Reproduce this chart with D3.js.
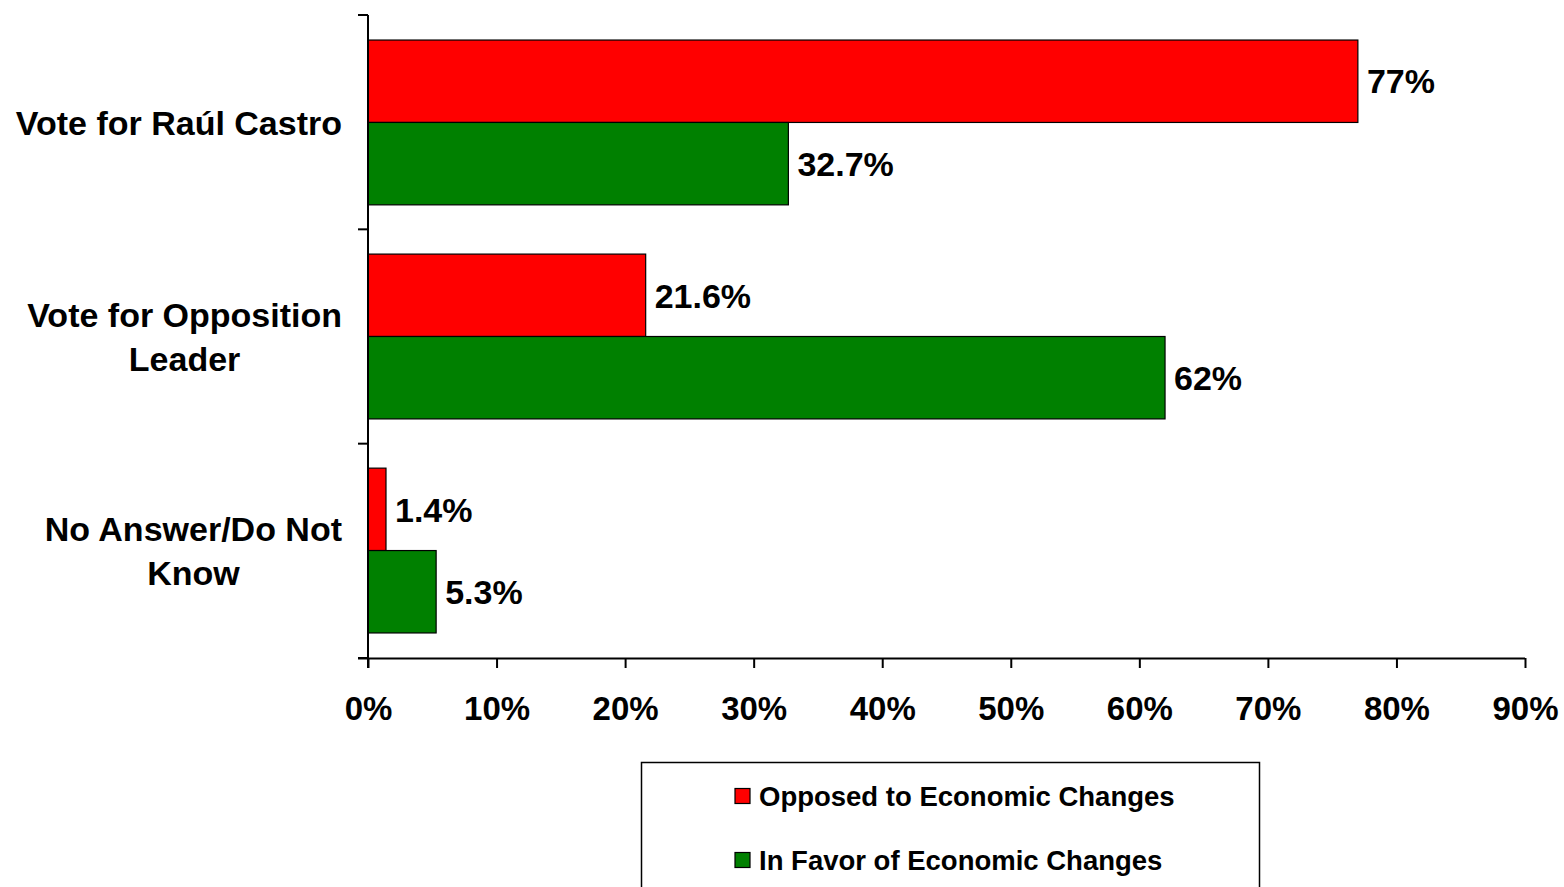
<!DOCTYPE html>
<html lang="en">
<head>
    <meta charset="UTF-8">
    <script src="https://d3js.org/d3.v7.min.js"></script>
    <title>Vote by attitude to economic changes</title>
    <style>
        body { margin: 0; background: #fff; }
        text { font-family: "Liberation Sans", Arial, sans-serif; font-weight: bold; fill: #000; }
    </style>
</head>
<body>
    <script>
        // data
        const categories = ["Vote for Raúl Castro", "Vote for Opposition Leader", "No Answer/Do Not Know"];
        const categoryLines = [["Vote for Raúl Castro"], ["Vote for Opposition", "Leader"], ["No Answer/Do Not", "Know"]];
        const seriesNames = ["Opposed to Economic Changes", "In Favor of Economic Changes"];
        const opposed = [77, 21.6, 1.4];
        const inFavor = [32.7, 62, 5.3];
        const valueLabels = [["77%", "21.6%", "1.4%"], ["32.7%", "62%", "5.3%"]];
        const xTicks = [0, 10, 20, 30, 40, 50, 60, 70, 80, 90];
        const colors = ["#ff0000", "#008000"];

        const w = 1564;
        const h = 887;
        const plotLeft = 368, plotRight = 1525, plotTop = 15, plotBottom = 658;

        const svg = d3.select("body").append("svg")
            .attr("width", w)
            .attr("height", h);

        const xScale = d3.scaleLinear().domain([0, 90]).range([plotLeft, plotRight]);
        const yScale = d3.scaleBand().domain(categories).range([plotTop, plotBottom])
            .paddingInner(0.23).paddingOuter(0.117);
        const inner = d3.scaleBand().domain(seriesNames).range([0, yScale.bandwidth()]);

        const series = [opposed, inFavor];

        // bars
        series.forEach((vals, s) => {
            svg.append("g").selectAll("rect")
                .data(vals)
                .enter()
                .append("rect")
                .attr("x", xScale(0))
                .attr("y", (d, i) => yScale(categories[i]) + inner(seriesNames[s]))
                .attr("width", d => xScale(d) - xScale(0))
                .attr("height", inner.bandwidth())
                .attr("fill", colors[s])
                .attr("stroke", "#000")
                .attr("stroke-width", 1.2);

            svg.append("g").selectAll("text")
                .data(vals)
                .enter()
                .append("text")
                .attr("x", d => xScale(d) + 9)
                .attr("y", (d, i) => yScale(categories[i]) + inner(seriesNames[s]) + inner.bandwidth() / 2)
                .attr("dy", "0.36em")
                .attr("font-size", 34)
                .text((d, i) => valueLabels[s][i]);
        });

        // x-axis
        const xAxis = d3.axisBottom(xScale)
            .tickValues(xTicks)
            .tickFormat(d => d + "%")
            .tickSizeInner(10)
            .tickSizeOuter(0)
            .tickPadding(29);

        const gx = svg.append("g")
            .attr("transform", "translate(0," + plotBottom + ")")
            .call(xAxis);
        gx.select(".domain").attr("d", "M" + (plotLeft - 10) + ",0.5H" + plotRight).attr("stroke-width", 2);
        gx.selectAll(".tick line").attr("stroke-width", 2);
        gx.selectAll(".tick text").attr("font-size", 33).attr("font-family", null);

        // y-axis: ticks at band boundaries
        const boundaries = [0, 1, 2, 3].map(k => plotTop + k * (plotBottom - plotTop) / 3);
        svg.append("line")
            .attr("x1", plotLeft).attr("x2", plotLeft)
            .attr("y1", plotTop).attr("y2", plotBottom + 10)
            .attr("stroke", "#000").attr("stroke-width", 2);
        svg.append("g").selectAll("line")
            .data(boundaries)
            .enter()
            .append("line")
            .attr("x1", plotLeft - 10).attr("x2", plotLeft)
            .attr("y1", d => d).attr("y2", d => d)
            .attr("stroke", "#000").attr("stroke-width", 2);

        // category labels, centred block with right edge at 342
        categoryLines.forEach((lines, i) => {
            const cy = yScale(categories[i]) + yScale.bandwidth() / 2;
            const t = svg.append("text")
                .attr("font-size", 34)
                .attr("text-anchor", "middle");
            lines.forEach((ln, j) => {
                t.append("tspan")
                    .attr("x", 0)
                    .attr("y", cy + (j - (lines.length - 1) / 2) * 44)
                    .attr("dy", "0.36em")
                    .text(ln);
            });
            const bb = t.node().getBBox();
            t.attr("transform", "translate(" + (342 - bb.width / 2) + ",0)");
        });

        // legend
        const legend = svg.append("g");
        legend.append("rect")
            .attr("x", 641.5).attr("y", 762.5)
            .attr("width", 618).attr("height", 140)
            .attr("fill", "#fff").attr("stroke", "#000").attr("stroke-width", 1.5);
        seriesNames.forEach((name, s) => {
            const cy = 796 + s * 64;
            legend.append("rect")
                .attr("x", 735).attr("y", cy - 7.5)
                .attr("width", 15).attr("height", 15)
                .attr("fill", colors[s]).attr("stroke", "#000").attr("stroke-width", 1.2);
            legend.append("text")
                .attr("x", 759).attr("y", cy)
                .attr("dy", "0.36em")
                .attr("font-size", 27.5)
                .text(name);
        });
    </script>
</body>
</html>
